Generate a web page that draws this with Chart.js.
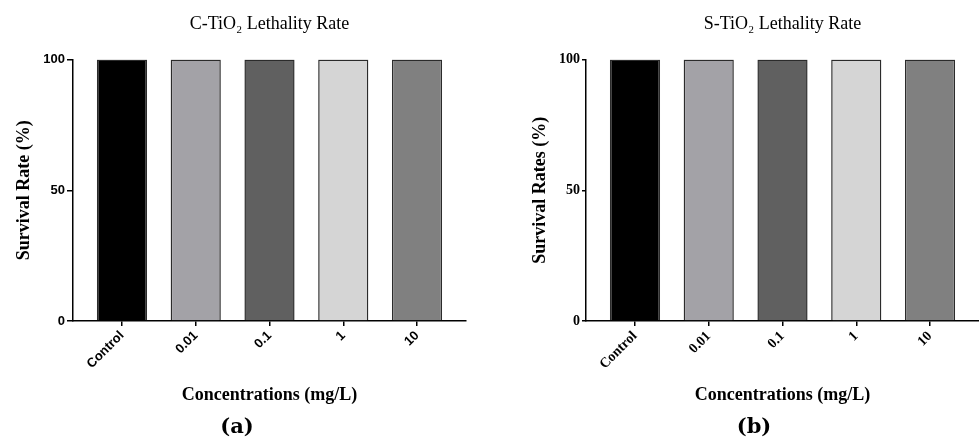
<!DOCTYPE html>
<html>
<head>
<meta charset="utf-8">
<script src="https://cdn.jsdelivr.net/npm/chart.js@4"></script>
<style>
  body { margin: 0; background: #fff; }
  .wrap { position: relative; width: 979px; height: 448px; overflow: hidden; }
  canvas { position: absolute; top: 0; }
  .tag { position: absolute; top: 413px; width: 60px; text-align: center;
         font: bold 21px "DejaVu Serif", serif; color: #000; }
</style>
</head>
<body>
<div class="wrap">
  <canvas id="chartA" width="490" height="448" style="left:0"></canvas>
  <canvas id="chartB" width="489" height="448" style="left:490px"></canvas>
  <div class="tag" style="left:207px">(a)</div>
  <div class="tag" style="left:724px">(b)</div>
</div>
<script>
// values
const concentrations = ['Control', '0.01', '0.1', '1', '10'];
const survivalC = [100, 100, 100, 100, 100];
const survivalS = [100, 100, 100, 100, 100];
const yTicks = [0, 50, 100];
const barColors = ['#000000', '#a3a2a7', '#606060', '#d5d5d5', '#808080'];

function makeChart(id, opts) {
    const ctx = document.getElementById(id).getContext('2d');
    return new Chart(ctx, {
        type: 'bar',
        data: {
            datasets: [{
                data: opts.values.map((v, i) => ({ x: i, y: v })),
                backgroundColor: barColors,
                borderColor: '#2b2b2b',
                borderWidth: 1.5,
                categoryPercentage: 1,
                barPercentage: 0.68
            }]
        },
        options: {
            responsive: false,
            animation: false,
            devicePixelRatio: 1,
            layout: { padding: { left: opts.padLeft, right: opts.padRight, top: 0, bottom: 42 } },
            plugins: {
                legend: { display: false },
                tooltip: { enabled: false },
                title: {
                    display: true,
                    text: opts.title,
                    fullSize: false,
                    color: '#000',
                    font: { family: 'Liberation Serif', size: 18, weight: 'normal' },
                    padding: { top: 13, bottom: 25 }
                }
            },
            scales: {
                x: {
                    type: 'linear',
                    offset: false,
                    min: -0.664,
                    max: concentrations.length - 1 + 0.664,
                    afterFit: s => { s.height = 85; },
                    afterBuildTicks: s => { s.ticks = concentrations.map((c, i) => ({ value: i })); },
                    border: { display: true, color: '#000', width: 1.5 },
                    grid: { display: true, offset: false, drawOnChartArea: false, drawTicks: true, tickLength: 5, color: '#000', lineWidth: 1.5 },
                    ticks: {
                        autoSkip: false,
                        minRotation: 45,
                        maxRotation: 45,
                        padding: 2,
                        color: '#000',
                        font: opts.tickFont,
                        callback: v => concentrations[v]
                    },
                    title: {
                        display: true,
                        text: 'Concentrations (mg/L)',
                        color: '#000',
                        font: { family: 'Liberation Serif', size: 18, weight: 'bold' },
                        padding: 0
                    }
                },
                y: {
                    min: 0,
                    max: 100,
                    afterFit: s => { s.width = opts.yWidth; },
                    afterBuildTicks: s => { s.ticks = yTicks.map(v => ({ value: v })); },
                    border: { display: true, color: '#000', width: 1.5 },
                    grid: { display: true, drawOnChartArea: false, drawTicks: true, tickLength: opts.yTickLen, color: '#000', lineWidth: 1.5 },
                    ticks: {
                        padding: 2,
                        color: '#000',
                        font: opts.tickFont
                    },
                    title: {
                        display: true,
                        text: opts.yTitle,
                        color: '#000',
                        font: { family: 'Liberation Serif', size: 18, weight: 'bold' },
                        padding: 0
                    }
                }
            }
        }
    });
}

makeChart('chartA', {
    values: survivalC,
    title: 'C-TiO\u2082 Lethality Rate',
    yTitle: 'Survival Rate (%)',
    tickFont: { family: 'Liberation Sans', size: 13, weight: 'bold' },
    padLeft: 14,
    padRight: 24,
    yWidth: 59,
    yTickLen: 6
});

makeChart('chartB', {
    values: survivalS,
    title: 'S-TiO\u2082 Lethality Rate',
    yTitle: 'Survival Rates (%)',
    tickFont: { family: 'Liberation Serif', size: 14, weight: 'bold' },
    padLeft: 40,
    padRight: 0,
    yWidth: 56,
    yTickLen: 4
});
</script>
</body>
</html>
